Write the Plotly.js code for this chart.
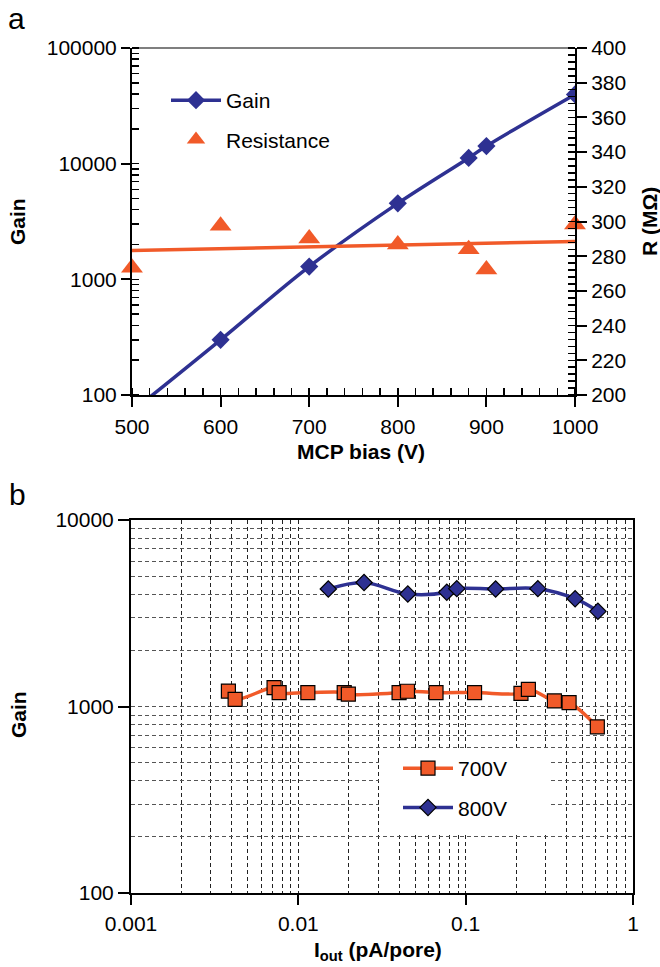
<!DOCTYPE html>
<html>
<head>
<meta charset="utf-8">
<script src="https://cdn.plot.ly/plotly-3.0.1.min.js"></script>
<style>html,body{margin:0;padding:0;background:#fff;}#chart{width:660px;height:967px;}</style>
</head>
<body>
<div id="chart"></div>
<script>
// ---- Panel a data ----
const biasV = [500, 600, 700, 800, 880, 900, 1000];
const gainA = [72, 300, 1290, 4540, 11200, 14200, 39700];
const resistance = [273.4, 297.5, 290.2, 286.7, 284.0, 272.4, 298.3];

// ---- Panel b data ----
const iout700 = [0.00382, 0.00419, 0.00716, 0.00768, 0.0114, 0.0188, 0.0199, 0.0400, 0.0449, 0.0665, 0.113, 0.214, 0.237, 0.339, 0.415, 0.612];
const gain700 = [1210, 1093, 1262, 1188, 1188, 1188, 1164, 1188, 1207, 1188, 1188, 1175, 1236, 1071, 1050, 778];
const iout800 = [0.0151, 0.0247, 0.0451, 0.0771, 0.0885, 0.151, 0.270, 0.451, 0.617];
const gain800 = [4266, 4625, 4010, 4100, 4285, 4266, 4285, 3785, 3238];

// linear trend of resistance (least squares)
const n = biasV.length;
const mx = biasV.reduce((a, b) => a + b, 0) / n;
const my = resistance.reduce((a, b) => a + b, 0) / n;
let sxy = 0, sxx = 0;
for (let i = 0; i < n; i++) { sxy += (biasV[i] - mx) * (resistance[i] - my); sxx += (biasV[i] - mx) ** 2; }
const slope = sxy / sxx;
const trendX = [500, 1000];
const trendY = trendX.map(v => my + slope * (v - mx));

const BLUE = '#2e3192';
const ORANGE = '#f15a29';
const FONT = 'Liberation Sans, Arial, Helvetica, sans-serif';
const W = 660, H = 967;
const px = v => v / W;
const py = v => 1 - v / H;

const traces = [
  { x: biasV, y: gainA, name: 'Gain', mode: 'lines+markers', xaxis: 'x', yaxis: 'y',
    line: { color: BLUE, width: 3.5, shape: 'spline' },
    marker: { symbol: 'diamond', size: 14, color: BLUE }, legend: 'legend', legendgroup: 'g1' },
  { x: trendX, y: trendY, name: 'trend', mode: 'lines', xaxis: 'x', yaxis: 'y2',
    line: { color: ORANGE, width: 3.5 }, showlegend: false, hoverinfo: 'skip' },
  { x: biasV, y: resistance, name: 'Resistance', mode: 'markers', xaxis: 'x', yaxis: 'y2',
    marker: { symbol: 'triangle-up', size: 19, color: ORANGE }, legend: 'legend', legendgroup: 'g2', cliponaxis: false },
  { x: iout700, y: gain700, name: '700V', mode: 'lines+markers', xaxis: 'x2', yaxis: 'y3',
    line: { color: ORANGE, width: 3.5, shape: 'spline' },
    marker: { symbol: 'square', size: 14, color: ORANGE, line: { color: '#000', width: 1.2 } }, legend: 'legend2', legendgroup: 'b1' },
  { x: iout800, y: gain800, name: '800V', mode: 'lines+markers', xaxis: 'x2', yaxis: 'y3',
    line: { color: BLUE, width: 3.5, shape: 'spline' },
    marker: { symbol: 'diamond', size: 12.5, color: BLUE, line: { color: '#000', width: 1.2 } }, legend: 'legend2', legendgroup: 'b2' }
];

const tickfont = { family: FONT, size: 21, color: '#000' };
const gridDash = '4px,3px';

function ann(text, x, y, size, angle) {
  return { text: text, xref: 'paper', yref: 'paper', x: px(x), y: py(y), xanchor: 'center', yanchor: 'middle',
           textangle: angle || 0, showarrow: false, font: { family: FONT, size: size, color: '#000' } };
}

const layout = {
  width: W, height: H,
  margin: { l: 0, r: 0, t: 0, b: 0 },
  paper_bgcolor: '#fff', plot_bgcolor: 'rgba(0,0,0,0)',
  font: { family: FONT, size: 21, color: '#000' },
  separators: '.',
  xaxis: {
    domain: [px(132), px(575)], anchor: 'y', range: [500, 1000], tick0: 500, dtick: 100,
    showline: true, linecolor: '#000', linewidth: 2, ticks: 'outside', ticklen: 10, tickwidth: 2, tickcolor: '#000',
    minor: { ticks: 'inside', dtick: 20, ticklen: 7, tickwidth: 1.5, tickcolor: '#000' },
    showgrid: false, zeroline: false, tickfont: tickfont, automargin: false, ticklabelstandoff: 2
  },
  yaxis: {
    domain: [py(395), py(48)], anchor: 'x', type: 'log', range: [2, 5], dtick: 1,
    showline: true, linecolor: '#000', linewidth: 2, ticks: 'outside', ticklen: 9, tickwidth: 2, tickcolor: '#000',
    minor: { ticks: 'inside', dtick: 'D1', ticklen: 7, tickwidth: 1.5, tickcolor: '#000' },
    showgrid: false, zeroline: false, exponentformat: 'none', tickformat: 'd', tickfont: tickfont, automargin: false
  },
  yaxis2: {
    overlaying: 'y', side: 'right', anchor: 'x', range: [200, 400], dtick: 20, tick0: 200,
    showline: true, linecolor: '#000', linewidth: 2, ticks: 'outside', ticklen: 10, tickwidth: 2, tickcolor: '#000',
    minor: { ticks: 'inside', dtick: 4, ticklen: 7, tickwidth: 1.5, tickcolor: '#000' },
    showgrid: false, zeroline: false, tickfont: tickfont, automargin: false
  },
  xaxis2: {
    domain: [px(131), px(633)], anchor: 'y3', type: 'log', range: [-3, 0], dtick: 1,
    showline: true, mirror: true, linecolor: '#000', linewidth: 2, ticks: 'outside', ticklen: 10, tickwidth: 2, tickcolor: '#000',
    showgrid: true, gridcolor: '#222', gridwidth: 1, griddash: gridDash,
    minor: { dtick: 'D1', showgrid: true, gridcolor: '#222', gridwidth: 1, griddash: gridDash, ticks: '' },
    zeroline: false, exponentformat: 'none', tickfont: tickfont, automargin: false, ticklabelstandoff: 1
  },
  yaxis3: {
    domain: [py(893), py(520)], anchor: 'x2', type: 'log', range: [2, 4], dtick: 1,
    showline: true, mirror: true, linecolor: '#000', linewidth: 2, ticks: 'outside', ticklen: 11, tickwidth: 2, tickcolor: '#000',
    showgrid: true, gridcolor: '#555', gridwidth: 1, griddash: gridDash,
    minor: { dtick: 'D1', showgrid: true, gridcolor: '#555', gridwidth: 1, griddash: gridDash, ticks: '' },
    zeroline: false, exponentformat: 'none', tickformat: 'd', tickfont: tickfont, automargin: false
  },
  legend: {
    x: px(166), y: py(80), xanchor: 'left', yanchor: 'top', bgcolor: 'rgba(0,0,0,0)', borderwidth: 0,
    font: { family: FONT, size: 21, color: '#000' }, traceorder: 'grouped', itemwidth: 50, tracegroupgap: 9
  },
  legend2: {
    x: px(398), y: py(748), xanchor: 'left', yanchor: 'top', bgcolor: 'rgba(0,0,0,0)', borderwidth: 0,
    font: { family: FONT, size: 21, color: '#000' }, traceorder: 'grouped', itemwidth: 50, tracegroupgap: 9
  },
  shapes: [
    { type: 'line', xref: 'x domain', yref: 'y domain', x0: 0, x1: 1, y0: 1, y1: 1, line: { color: '#000', width: 1.2 } },
    { type: 'rect', xref: 'paper', yref: 'paper', x0: px(379), x1: px(550), y0: py(833), y1: py(748),
      fillcolor: '#fff', line: { width: 0 }, layer: 'above' }
  ],
  annotations: [
    ann('a', 16, 18, 30),
    ann('b', 17, 494, 30),
    ann('<b>Gain</b>', 18, 222, 21, -90),
    ann('<b>R (MΩ)</b>', 650, 222, 21, -90),
    ann('<b>MCP bias (V)</b>', 361, 452, 21),
    ann('<b>Gain</b>', 18, 715, 21, -90),
    ann('<b>I<sub>out</sub> (pA/pore)</b>', 378, 951, 21)
  ]
};

Plotly.newPlot('chart', traces, layout, { staticPlot: true, displayModeBar: false });
</script>
</body>
</html>
